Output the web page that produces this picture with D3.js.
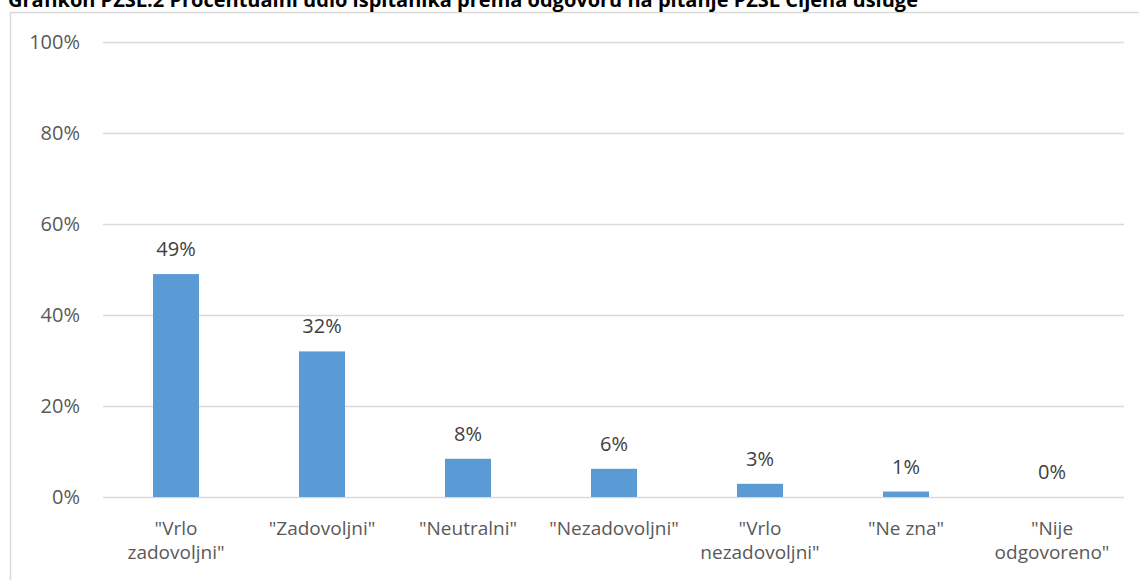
<!DOCTYPE html>
<html>
<head>
<meta charset="utf-8">
<script src="https://cdn.jsdelivr.net/npm/d3@7"></script>
<style>
  html, body { margin: 0; padding: 0; background: #fff; overflow: hidden; }
  svg { display: block; }
</style>
</head>
<body>
<svg id="chart" width="1139" height="580"></svg>
<script>
const title = "Grafikon PZSL.2 Procentualni udio ispitanika prema odgovoru na pitanje PZSL Cijena usluge";
const categories = ["\"Vrlo zadovoljni\"", "\"Zadovoljni\"", "\"Neutralni\"", "\"Nezadovoljni\"", "\"Vrlo nezadovoljni\"", "\"Ne zna\"", "\"Nije odgovoreno\""];
const values = [0.49, 0.32, 0.084, 0.062, 0.029, 0.012, 0.0];
const valueLabels = ["49%", "32%", "8%", "6%", "3%", "1%", "0%"];
const yTicks = [0, 0.2, 0.4, 0.6, 0.8, 1.0];

const svg = d3.select("#chart");
const font = "'Open Sans', sans-serif";

// frame
svg.append("path")
  .attr("d", "M10.5,600 V12.5 H1200")
  .attr("fill", "none").attr("stroke", "#d9d9d9").attr("stroke-width", 1.5);

// title (clipped at top, as in the source)
svg.append("text")
  .attr("x", 8).attr("y", 7)
  .attr("font-family", font).attr("font-weight", "bold").attr("font-size", 20)
  .attr("fill", "#000")
  .text(title);

const x = d3.scaleBand().domain(categories).range([103, 1125]).paddingInner(0.685).paddingOuter(0.3425);
const y = d3.scaleLinear().domain([0, 1]).range([497, 42]);

// gridlines
const yAxis = d3.axisLeft(y).tickValues(yTicks).tickFormat(d3.format(".0%")).tickSize(-(1124 - 103)).tickPadding(23);
const gy = svg.append("g").attr("transform", "translate(103,0)").call(yAxis);
gy.select(".domain").remove();
gy.selectAll(".tick line").attr("stroke", "#d9d9d9").attr("stroke-width", 1.5);
gy.selectAll(".tick text").attr("font-family", font).attr("font-size", 20).attr("fill", "#595959");

// bars
svg.append("g").selectAll("rect").data(values).join("rect")
  .attr("x", (d, i) => x(categories[i]))
  .attr("width", x.bandwidth())
  .attr("y", d => y(d))
  .attr("height", d => y(0) - y(d))
  .attr("fill", "#5b9bd5");

// data labels
svg.append("g").selectAll("text").data(values).join("text")
  .attr("x", (d, i) => x(categories[i]) + x.bandwidth() / 2)
  .attr("y", d => y(d) - 18)
  .attr("text-anchor", "middle")
  .attr("font-family", font).attr("font-size", 20).attr("fill", "#404040")
  .text((d, i) => valueLabels[i]);

// category labels with wrapping
const xAxis = d3.axisBottom(x).tickSize(0).tickPadding(0);
const gx = svg.append("g").attr("transform", "translate(0,497)").call(xAxis);
gx.select(".domain").remove();
gx.selectAll(".tick text").attr("font-family", font).attr("font-size", 19).attr("fill", "#595959")
  .each(function(d) {
    const t = d3.select(this);
    t.text(null).attr("y", 0).attr("dy", null);
    const words = d.split(" ");
    const maxW = x.step();
    let lines = [];
    let cur = [];
    const probe = t.append("tspan");
    words.forEach(w => {
      const test = cur.concat([w]).join(" ");
      probe.text(test);
      if (probe.node().getComputedTextLength() > maxW - 4 && cur.length) {
        lines.push(cur.join(" "));
        cur = [w];
      } else cur.push(w);
    });
    lines.push(cur.join(" "));
    probe.remove();
    lines.forEach((l, i) => {
      t.append("tspan").attr("x", 0).attr("y", 38 + i * 24).text(l);
    });
  });
</script>
</body>
</html>
